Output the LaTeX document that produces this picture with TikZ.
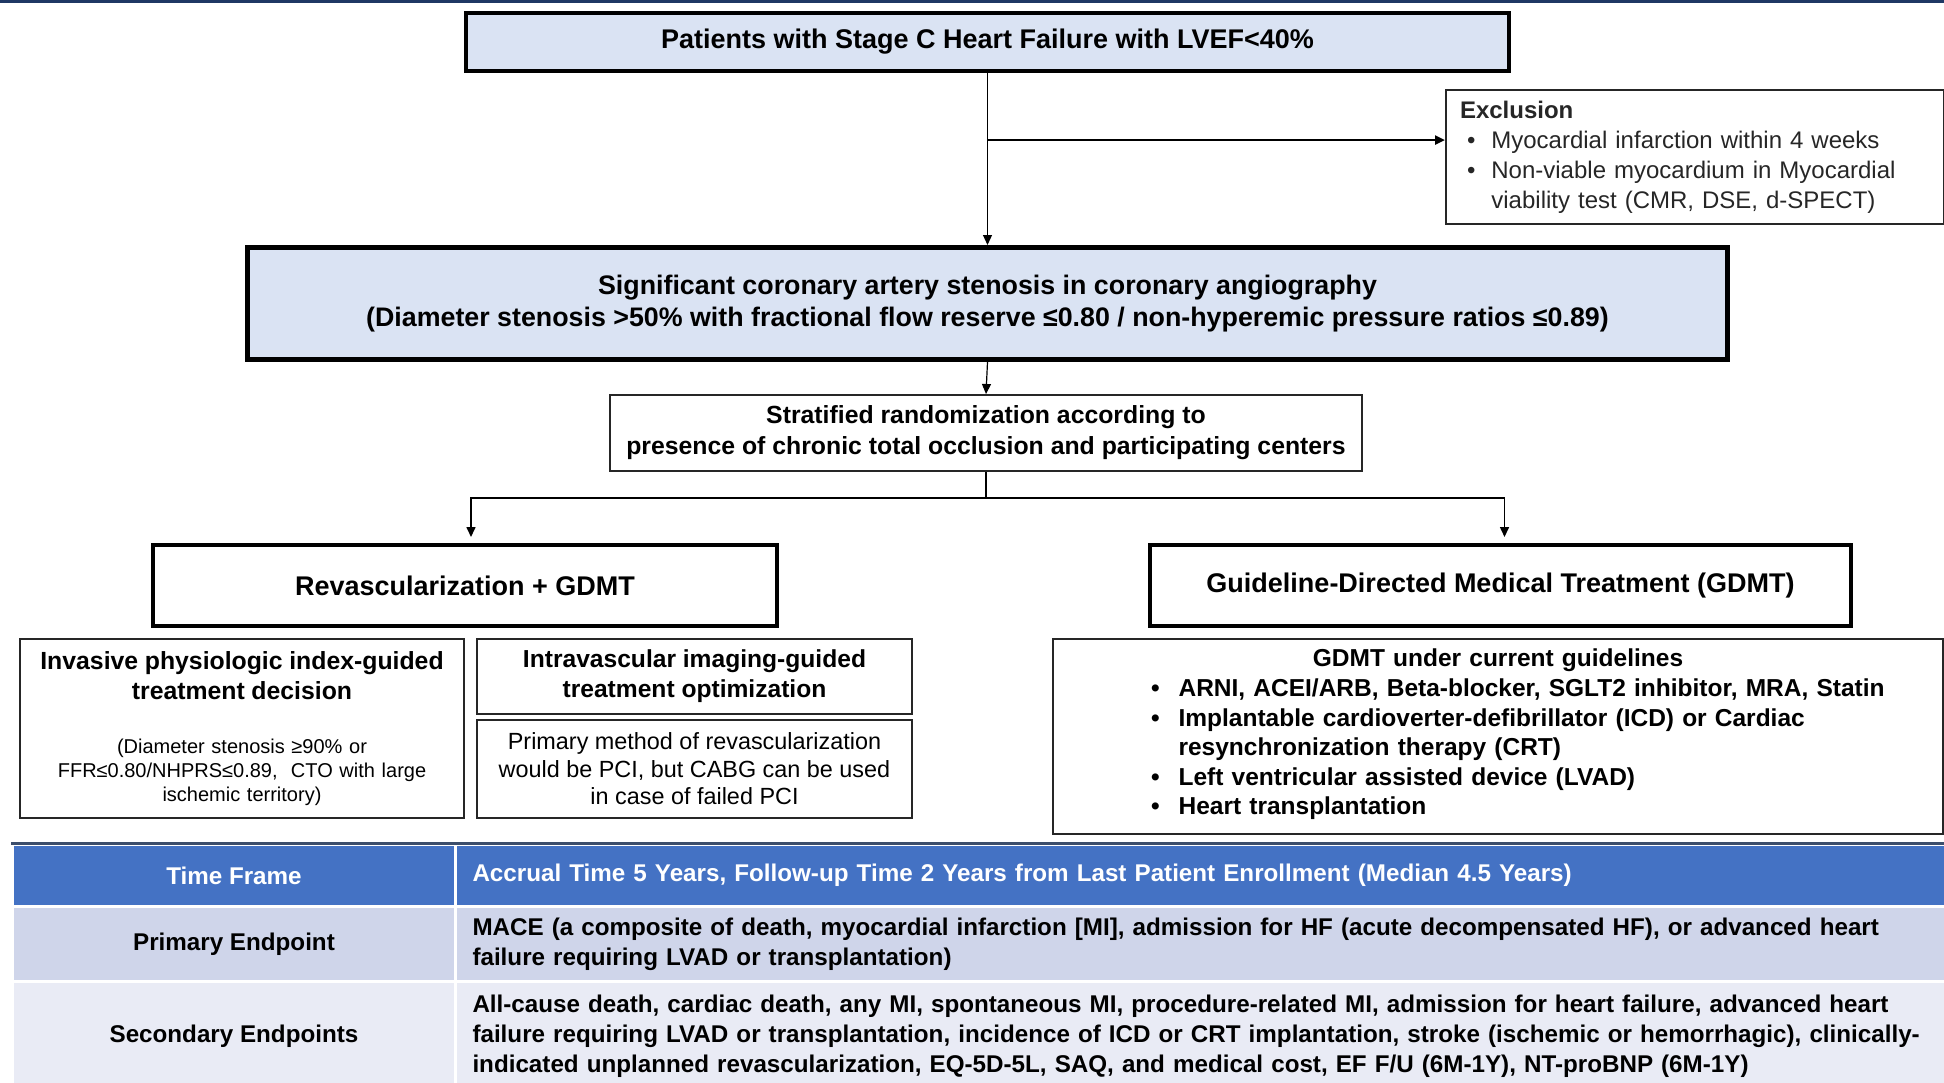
\documentclass[tikz,border=0pt]{standalone}
\usepackage{fontspec}
\setmainfont{Liberation Sans}
\usepackage{tikz}
\usetikzlibrary{arrows.meta,positioning,calc}
\definecolor{cRule}{HTML}{1F3864}
\definecolor{cBoxF}{HTML}{DAE3F3}
\definecolor{cHeadF}{HTML}{4472C4}
\definecolor{cPrimF}{HTML}{CFD5EA}
\definecolor{cSecF}{HTML}{E9EBF5}

\begin{document}
\begin{tikzpicture}[x=0.5pt,y=-0.5pt,
  big/.style={draw=black,line width=2pt,anchor=north west,inner sep=0pt,align=center,
    font=\bfseries\fontsize{13.5}{16}\selectfont},
  thin/.style={draw=black!85,line width=1pt,anchor=north west,inner sep=0pt,align=center},
  cell/.style={anchor=north west,draw=white,line width=1.5pt,inner sep=0pt,
    font=\bfseries\fontsize{12.1}{14.9}\selectfont},
  arr/.style={-{Triangle[length=5pt,width=4.5pt]},line width=0.6pt},
  ln/.style={line width=0.8pt}]

  \useasboundingbox (0,0) rectangle (1944,1082);
  \fill[cRule] (0,0) rectangle (1944,3);

  \node[big,fill=cBoxF,minimum width=521.5pt,minimum height=29pt] (pat) at (464,11)
    {Patients with Stage C Heart Failure with LVEF<40\%};
  \node[big,fill=cBoxF,line width=2.5pt,minimum width=740pt,minimum height=56pt,
    font=\bfseries\fontsize{13.4}{16.3}\selectfont] (sten) at (245,245)
    {Significant coronary artery stenosis in coronary angiography\\
     (Diameter stenosis >50\% with fractional flow reserve ≤0.80 / non-hyperemic pressure ratios ≤0.89)};

  \node[thin,minimum width=249pt,minimum height=67pt,text width=235pt,inner xsep=7pt,
    align=left,text=black!85,font=\fontsize{12}{15}\selectfont] (excl) at (1445,89)
    {\begin{tabular}{@{\hspace{3.5pt}}l@{\hspace{8pt}}l@{}}
       \multicolumn{2}{@{}l@{}}{\bfseries Exclusion}\\
       \textbullet & Myocardial infarction within 4 weeks\\
       \textbullet & Non-viable myocardium in Myocardial\\
                   & viability test (CMR, DSE, d-SPECT)
     \end{tabular}};

  \node[thin,minimum width=376pt,minimum height=38pt,
    font=\bfseries\fontsize{12.4}{15.5}\selectfont] (rand) at (609,394)
    {Stratified randomization according to\\
     presence of chronic total occlusion and participating centers};

  \node[big,minimum width=312pt,minimum height=40.5pt] (rev) at (151,543)
    {Revascularization + GDMT};
  \node[big,minimum width=350.5pt,minimum height=40.5pt] (gdmt) at (1148,543)
    {Guideline-Directed Medical Treatment (GDMT)};

  \node[thin,minimum width=222pt,minimum height=89.5pt,text width=214pt] (phys) at (19,638)
    {{\bfseries\fontsize{12.4}{15}\selectfont Invasive physiologic index-guided\\treatment decision\par}
     \vspace{15pt}
     {\fontsize{10}{12}\selectfont (Diameter stenosis ≥90\% or\\
      FFR≤0.80/NHPRS≤0.89,\ \ CTO with large\\ischemic territory)\par}};
  \node[thin,minimum width=217.5pt,minimum height=37.5pt,
    font=\bfseries\fontsize{12.3}{15}\selectfont] (ivus) at (476,638)
    {Intravascular imaging-guided\\treatment optimization};
  \node[thin,minimum width=217.5pt,minimum height=49pt,
    font=\fontsize{11.7}{13.75}\selectfont] (pci) at (476,719)
    {Primary method of revascularization\\would be PCI, but CABG can be used\\in case of failed PCI};

  \node[thin,minimum width=445pt,minimum height=97.5pt,text width=445pt,align=left,
    font=\bfseries\fontsize{12.25}{14.8}\selectfont] (list) at (1052,638)
    {\centerline{GDMT under current guidelines}
     \hspace*{49pt}\begin{tabular}[t]{@{}l@{\hspace{9.5pt}}l@{}}
       \textbullet & ARNI, ACEI/ARB, Beta-blocker, SGLT2 inhibitor, MRA, Statin\\
       \textbullet & Implantable cardioverter-defibrillator (ICD) or Cardiac\\
                   & resynchronization therapy (CRT)\\
       \textbullet & Left ventricular assisted device (LVAD)\\
       \textbullet & Heart transplantation
     \end{tabular}};

  \foreach \nm/\y/\h/\f/\c/\l/\r in {
    hd/843/31/cHeadF/white/{Time Frame}/{Accrual Time 5 Years, Follow-up Time 2 Years from Last Patient Enrollment (Median 4.5 Years)},
    pe/905/37.5/cPrimF/black/{Primary Endpoint}/{MACE (a composite of death, myocardial infarction [MI], admission for HF (acute decompensated HF), or advanced heart\\failure requiring LVAD or transplantation)},
    se/980/55/cSecF/black/{Secondary Endpoints}/{All-cause death, cardiac death, any MI, spontaneous MI, procedure-related MI, admission for heart failure, advanced heart\\failure requiring LVAD or transplantation, incidence of ICD or CRT implantation, stroke (ischemic or hemorrhagic), clinically-\\indicated unplanned revascularization, EQ-5D-5L, SAQ, and medical cost, EF F/U (6M-1Y), NT-proBNP (6M-1Y)}}
    {\node[cell,fill=\f,text=\c,minimum width=221.5pt,minimum height=\h pt,align=center] (\nm L) at (11,\y) {\l};
     \node[cell,fill=\f,text=\c,minimum width=745pt,minimum height=\h pt,text width=728pt,
       inner xsep=8.5pt,align=left] (\nm R) at (454,\y) {\r};}
  \draw[line width=1.5pt,cRule!70!gray] (hdL.north west) -- (hdR.north east);

  \coordinate (brk) at ($(pat.south)!0.39!(sten.north)$);
  \draw[arr] (pat.south) -- (sten.north);
  \draw[arr,line width=1.2pt] (brk) -- (brk -| excl.west);
  \draw[arr] (sten.south) -- (rand.north);
  \coordinate (split) at ($(rand.south)+(0,26)$);
  \draw[ln] (rand.south) -- (split);
  \draw[arr,ln,shorten >=3pt] (split) -| ([xshift=3pt]rev.north);
  \draw[arr,ln,shorten >=3pt] (split) -| ([xshift=2pt]gdmt.north);
\end{tikzpicture}
\end{document}
